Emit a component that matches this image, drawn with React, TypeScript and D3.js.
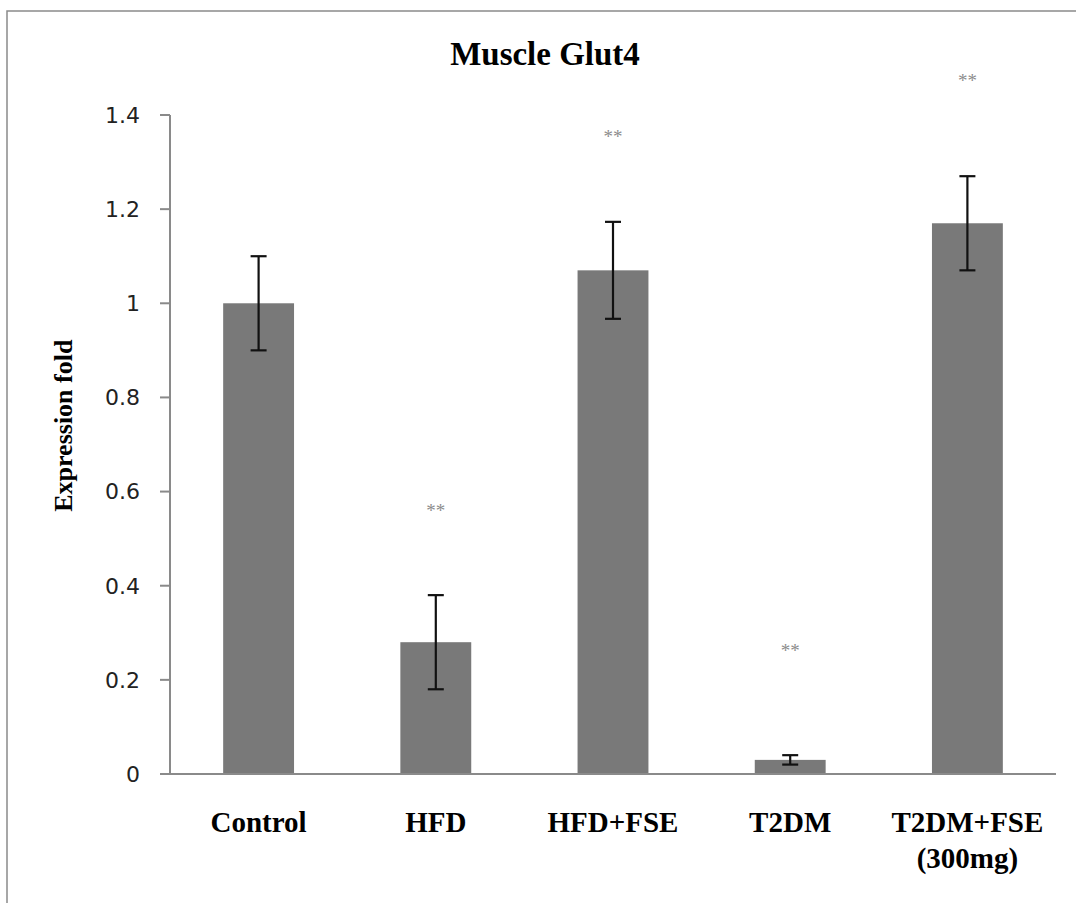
import React from 'react';
import * as d3 from 'd3';

const width = 1076;
const height = 903;

const groups = ['Control', 'HFD', 'HFD+FSE', 'T2DM', 'T2DM+FSE'];
const groupLines = [['Control'], ['HFD'], ['HFD+FSE'], ['T2DM'], ['T2DM+FSE', '(300mg)']];
const expression = [1.0, 0.28, 1.07, 0.03, 1.17];
const errors = [0.1, 0.1, 0.103, 0.01, 0.1];
// height (in axis units) where the "**" marks sit, null = no mark
const starLevel: (number | null)[] = [null, 0.568, 1.362, 0.27, 1.481];
const yTicks = [0, 0.2, 0.4, 0.6, 0.8, 1, 1.2, 1.4];
const yTickLabels = ['0', '0.2', '0.4', '0.6', '0.8', '1', '1.2', '1.4'];

const plot = { left: 170, right: 1056, top: 115, bottom: 774 };

const serif = "'Liberation Serif', 'Times New Roman', 'DejaVu Serif', serif";

export default function App() {
  const x = d3
    .scaleBand<string>()
    .domain(groups)
    .range([plot.left, plot.right])
    .paddingInner(0.6)
    .paddingOuter(0.3);

  const y = d3.scaleLinear().domain([0, 1.4]).range([plot.bottom, plot.top]);

  const axisColor = '#8a8a8a';
  const mid = (g: string) => (x(g) ?? 0) + x.bandwidth() / 2;

  return (
    <div style={{ position: 'absolute', left: 0, top: 0 }}>
      <svg width={width} height={height} style={{ display: 'block', background: '#fff' }}>
        {/* chart frame, only left and top edges fall inside the picture */}
        <rect x={7} y={11} width={1200} height={1000} fill="none" stroke={axisColor} strokeWidth={1.5} />

        <text
          x={545}
          y={65}
          textAnchor="middle"
          style={{ fontFamily: serif, fontWeight: 'bold', fontSize: 33 }}
          fill="#000"
        >
          Muscle Glut4
        </text>

        <text
          transform={`translate(72, ${y(0.74)}) rotate(-90)`}
          textAnchor="middle"
          style={{ fontFamily: serif, fontWeight: 'bold', fontSize: 26 }}
          fill="#000"
        >
          Expression fold
        </text>

        {/* bars */}
        {groups.map((g, i) => (
          <rect
            key={g}
            x={x(g)}
            y={y(expression[i])}
            width={x.bandwidth()}
            height={y(0) - y(expression[i])}
            fill="#797979"
          />
        ))}

        {/* y axis */}
        <line x1={plot.left} x2={plot.left} y1={y(1.4)} y2={y(0)} stroke={axisColor} strokeWidth={2} />
        {yTicks.map((t, i) => (
          <g key={t}>
            <line x1={plot.left - 10} x2={plot.left} y1={y(t)} y2={y(t)} stroke={axisColor} strokeWidth={2} />
            <text
              x={plot.left - 30}
              y={y(t)}
              dy="0.36em"
              textAnchor="end"
              style={{ fontFamily: "'DejaVu Sans', Verdana, sans-serif", fontSize: 22 }}
              fill="#222"
            >
              {yTickLabels[i]}
            </text>
          </g>
        ))}

        {/* x axis */}
        <line x1={plot.left - 10} x2={plot.right} y1={y(0)} y2={y(0)} stroke={axisColor} strokeWidth={2} />

        {/* error bars */}
        {groups.map((g, i) => {
          const cx = mid(g);
          const hi = y(expression[i] + errors[i]);
          const lo = y(expression[i] - errors[i]);
          return (
            <g key={g} stroke="#111" strokeWidth={2.2}>
              <line x1={cx} x2={cx} y1={hi} y2={lo} />
              <line x1={cx - 8} x2={cx + 8} y1={hi} y2={hi} />
              <line x1={cx - 8} x2={cx + 8} y1={lo} y2={lo} />
            </g>
          );
        })}

        {/* significance marks */}
        {groups.map((g, i) =>
          starLevel[i] == null ? null : (
            <text
              key={g}
              x={mid(g)}
              y={y(starLevel[i] as number) + 10}
              textAnchor="middle"
              style={{ fontFamily: serif, fontSize: 19 }}
              fill="#8c8c8c"
            >
              **
            </text>
          )
        )}

        {/* category labels */}
        {groups.map((g, i) => (
          <text
            key={g}
            x={mid(g)}
            y={832}
            textAnchor="middle"
            style={{ fontFamily: serif, fontWeight: 'bold', fontSize: 29 }}
            fill="#000"
          >
            {groupLines[i].map((line, j) => (
              <tspan key={line} x={mid(g)} dy={j === 0 ? 0 : 36}>
                {line}
              </tspan>
            ))}
          </text>
        ))}
      </svg>
    </div>
  );
}
